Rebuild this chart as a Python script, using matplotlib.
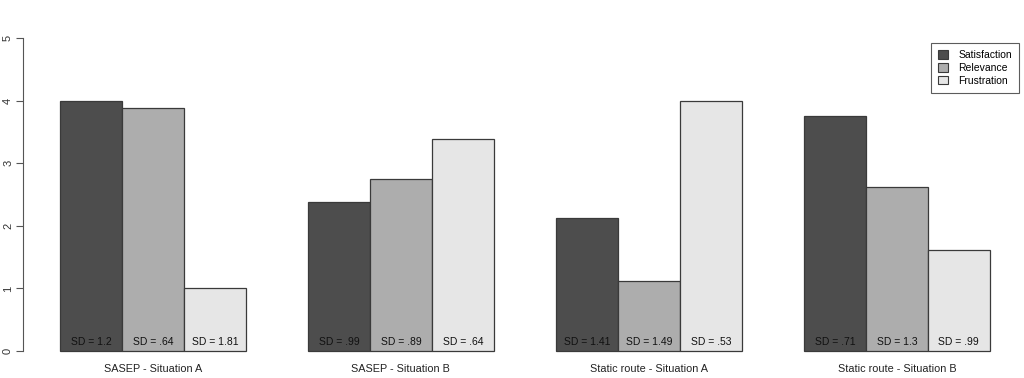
import numpy as np
import matplotlib
matplotlib.use("Agg")
import matplotlib.pyplot as plt
from matplotlib.patches import Patch

plt.rcParams['font.family'] = ['Liberation Sans', 'DejaVu Sans']

# data
groups = ['SASEP - Situation A', 'SASEP - Situation B',
          'Static route - Situation A', 'Static route - Situation B']
measures = ['Satisfaction', 'Relevance', 'Frustration']
satisfaction = [4.0, 2.38, 2.12, 3.75]
relevance = [3.88, 2.75, 1.12, 2.62]
frustration = [1.0, 3.38, 4.0, 1.62]
sd_satisfaction = ['1.2', '.99', '1.41', '.71']
sd_relevance = ['.64', '.89', '1.49', '1.3']
sd_frustration = ['1.81', '.64', '.53', '.99']

colors = ['#4d4d4d', '#adadad', '#e6e6e6']
edge = '#3a3a3a'

fig = plt.figure(figsize=(10.24, 3.78), dpi=100)
ax = fig.add_axes([22.8/1024, 14.5/378, (1027-22.8)/1024, (363.5-25.5)/378])

values = [satisfaction, relevance, frustration]
sds = [sd_satisfaction, sd_relevance, sd_frustration]
# R barplot layout: bar width 1, one bar gap between groups
for k in range(3):
    xs = np.arange(4) * 4 + 1.5 + k
    ax.bar(xs, values[k], width=1.0, color=colors[k], edgecolor=edge, linewidth=0.9)
    for x, s in zip(xs, sds[k]):
        ax.text(x, 0.15, 'SD = ' + s, ha='center', va='center', fontsize=7.5, color='#111111')

ax.set_xlim(0.4, 16.6)
ax.set_ylim(-0.2, 5.2)
for s in ['top', 'right', 'bottom']:
    ax.spines[s].set_visible(False)
ax.spines['left'].set_bounds(0, 5)
ax.spines['left'].set_color('#555555')
ax.set_yticks(range(6))
ax.set_yticklabels([str(i) for i in range(6)], rotation=90, va='center', fontsize=8, color='#333333')
ax.tick_params(axis='y', length=5, color='#555555', pad=2)
ax.set_xticks(np.arange(4) * 4 + 2.5)
ax.set_xticklabels(groups, fontsize=7.8, color='#222222')
ax.tick_params(axis='x', length=0, pad=0)

handles = [Patch(facecolor=c, edgecolor=edge, linewidth=0.8) for c in colors]
leg = fig.legend(handles, measures, loc='upper right', bbox_to_anchor=(1019/1024, 1 - 43/378),
                 fontsize=7.5, frameon=True, fancybox=False, handlelength=0.9, handleheight=0.9,
                 handletextpad=1.0, borderpad=0.7, labelspacing=0.25, borderaxespad=0)
leg.get_frame().set_edgecolor('#333333')
leg.get_frame().set_linewidth(0.8)

fig.savefig('out.png', dpi=100)
